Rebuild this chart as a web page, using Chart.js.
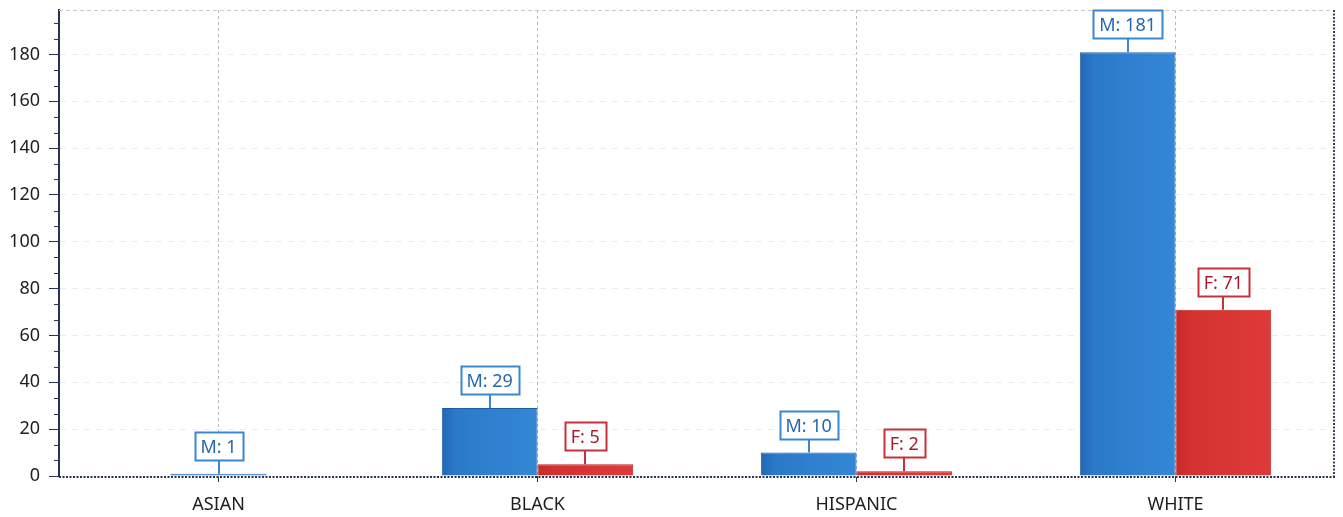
<!DOCTYPE html>
<html>
<head>
<meta charset="utf-8">
<script src="https://cdn.jsdelivr.net/npm/chart.js@4/dist/chart.umd.min.js"></script>
<style>
  html, body { margin: 0; padding: 0; background: #ffffff; }
  canvas { display: block; }
</style>
</head>
<body>
<canvas id="chart" width="1343" height="517"></canvas>
<script>
// Headcount by race, split by sex
const categories = ['ASIAN', 'BLACK', 'HISPANIC', 'WHITE'];
const maleCounts = [1, 29, 10, 181];
const femaleCounts = [null, 5, 2, 71];
const yTickValues = [0, 20, 40, 60, 80, 100, 120, 140, 160, 180];
const yAxisMax = 199;

const FONT = '"Noto Sans", "DejaVu Sans", sans-serif';
const AXIS_DARK = '#283552';

const seriesStyle = {
  M: { fill: ['#2368b3', '#2b7aca', '#3487d6'], border: '#1d5da6', label: '#2567b3', box: '#3a86d0' },
  F: { fill: ['#c82a2a', '#d43131', '#de3a3a'], border: '#c02424', label: '#a81c2a', box: '#c8303c' }
};

// Horizontal shading across each bar
const barShading = {
  id: 'barShading',
  beforeDatasetsDraw(chart) {
    const ctx = chart.ctx;
    chart.data.datasets.forEach((ds, di) => {
      const meta = chart.getDatasetMeta(di);
      const st = seriesStyle[ds.key];
      meta.data.forEach((el) => {
        const { x, width } = el.getProps(['x', 'width'], true);
        if (!isFinite(x) || !isFinite(width)) return;
        const g = ctx.createLinearGradient(x - width / 2, 0, x + width / 2, 0);
        g.addColorStop(0, st.fill[0]);
        g.addColorStop(0.15, st.fill[1]);
        g.addColorStop(1, st.fill[2]);
        el.options.backgroundColor = g;
      });
    });
  }
};

// Plot frame, baseline and minor ticks on the value axis
const frame = {
  id: 'frame',
  beforeDatasetsDraw(chart) {
    const { ctx, chartArea: a } = chart;
    const y = chart.scales.y;
    ctx.save();
    // top edge
    ctx.strokeStyle = '#c9c9c9';
    ctx.lineWidth = 1;
    ctx.setLineDash([4, 3]);
    ctx.beginPath();
    ctx.moveTo(a.left, a.top + 0.5);
    ctx.lineTo(a.right, a.top + 0.5);
    ctx.stroke();
    // right edge
    ctx.strokeStyle = '#3a4560';
    ctx.lineWidth = 2;
    ctx.setLineDash([2, 1.5]);
    ctx.beginPath();
    ctx.moveTo(a.right - 1, a.top);
    ctx.lineTo(a.right - 1, a.bottom);
    ctx.stroke();
    // minor ticks
    ctx.setLineDash([]);
    ctx.strokeStyle = AXIS_DARK;
    ctx.lineWidth = 1;
    for (let i = 0; i < yTickValues.length; i++) {
      for (let k = 1; k <= 2; k++) {
        const v = yTickValues[i] + k * 20 / 3;
        if (v > yAxisMax) continue;
        const py = Math.round(y.getPixelForValue(v)) + 0.5;
        ctx.beginPath();
        ctx.moveTo(a.left - 5, py);
        ctx.lineTo(a.left, py);
        ctx.stroke();
      }
    }
    ctx.restore();
  },
  afterDatasetsDraw(chart) {
    const { ctx, chartArea: a } = chart;
    ctx.save();
    ctx.strokeStyle = AXIS_DARK;
    ctx.lineWidth = 2;
    ctx.setLineDash([2, 1.5]);
    ctx.beginPath();
    ctx.moveTo(a.left, a.bottom + 1);
    ctx.lineTo(a.right, a.bottom + 1);
    ctx.stroke();
    ctx.restore();
  }
};

// Boxed value labels joined to the bar tops
const valueBoxes = {
  id: 'valueBoxes',
  afterDatasetsDraw(chart) {
    const ctx = chart.ctx;
    ctx.save();
    ctx.font = '18px ' + FONT;
    ctx.textAlign = 'center';
    ctx.textBaseline = 'middle';
    chart.data.datasets.forEach((ds, di) => {
      const meta = chart.getDatasetMeta(di);
      const st = seriesStyle[ds.key];
      meta.data.forEach((el, i) => {
        const v = ds.data[i];
        if (v === null || v === undefined) return;
        const { x, y } = el.getProps(['x', 'y'], true);
        const text = ds.key + ': ' + v;
        const tw = ctx.measureText(text).width;
        const bw = Math.round(tw + 12);
        const bh = 28;
        const stem = 14;
        const bx = Math.round(x - bw / 2) + 0.5;
        const by = Math.round(y - stem - bh) + 0.5;
        ctx.strokeStyle = st.box;
        ctx.lineWidth = 2;
        ctx.beginPath();
        ctx.moveTo(Math.round(x), y);
        ctx.lineTo(Math.round(x), by + bh);
        ctx.stroke();
        ctx.fillStyle = '#ffffff';
        ctx.fillRect(bx, by, bw, bh);
        ctx.lineWidth = 2;
        ctx.strokeRect(bx, by, bw, bh);
        ctx.fillStyle = st.label;
        ctx.fillText(text, x, by + bh / 2 + 1);
      });
    });
    ctx.restore();
  }
};

new Chart(document.getElementById('chart'), {
  type: 'bar',
  data: {
    labels: categories,
    datasets: [
      { key: 'M', label: 'M', data: maleCounts, skipNull: true,
        backgroundColor: () => seriesStyle.M.fill[1], borderColor: seriesStyle.M.border, borderWidth: 1 },
      { key: 'F', label: 'F', data: femaleCounts, skipNull: true,
        backgroundColor: () => seriesStyle.F.fill[1], borderColor: seriesStyle.F.border, borderWidth: 1 }
    ]
  },
  options: {
    responsive: false,
    animation: false,
    events: [],
    layout: { padding: { top: 10, right: 8, left: 0, bottom: 0 } },
    datasets: { bar: { categoryPercentage: 0.6, barPercentage: 1.0, maxBarThickness: 96 } },
    plugins: {
      legend: { display: false },
      tooltip: { enabled: false },
      title: { display: false }
    },
    scales: {
      x: {
        offset: true,
        grid: {
          offset: false,
          color: '#b8b8b8',
          lineWidth: 1,
          drawTicks: true,
          tickLength: 6,
          tickColor: AXIS_DARK,
          tickWidth: 1,
          tickBorderDash: []
        },
        border: { display: false, dash: [3, 3] },
        ticks: {
          color: '#1e1e1e',
          font: { family: FONT, size: 18 },
          padding: 12,
          maxRotation: 0
        },
        afterFit(scale) { scale.height = 41; }
      },
      y: {
        min: 0,
        max: yAxisMax,
        afterBuildTicks(scale) { scale.ticks = yTickValues.map(v => ({ value: v })); },
        grid: {
          color: '#ececec',
          lineWidth: 1,
          tickLength: 10,
          tickColor: AXIS_DARK,
          tickWidth: 1,
          tickBorderDash: []
        },
        border: { display: true, color: AXIS_DARK, width: 2, dash: [6, 6] },
        ticks: {
          color: '#1e1e1e',
          font: { family: FONT, size: 18 },
          padding: 9
        },
        afterFit(scale) {
          scale.width = 59;
          scale.paddingTop = 0;
          scale.paddingBottom = 0;
        }
      }
    }
  },
  plugins: [barShading, frame, valueBoxes]
});
</script>
</body>
</html>
